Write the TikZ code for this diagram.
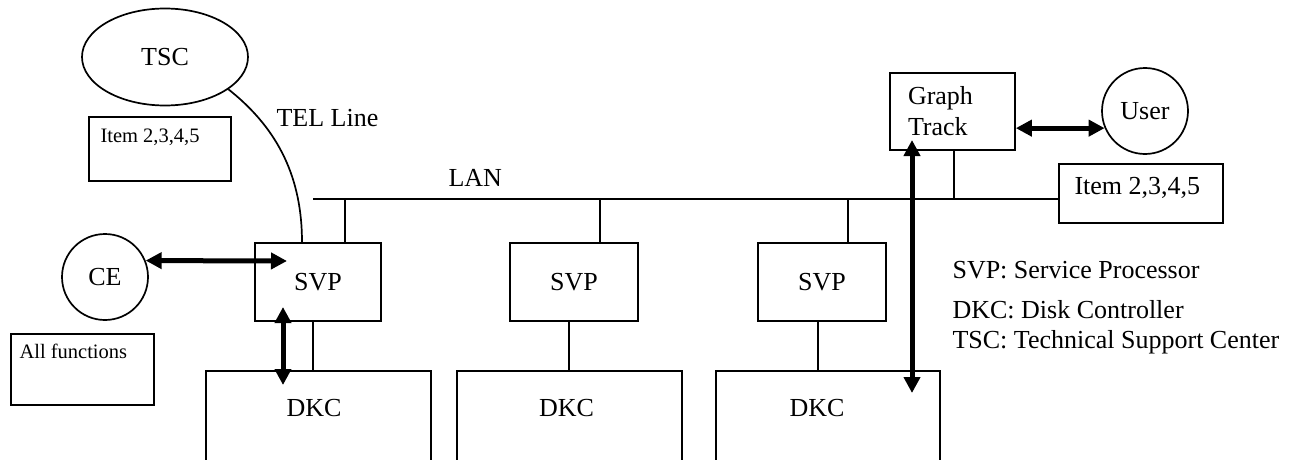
\documentclass[tikz,border=0pt]{standalone}
\usepackage{fontspec}
\setmainfont{Liberation Serif}
\usetikzlibrary{shapes.geometric,arrows.meta,calc}
\begin{document}
\begin{tikzpicture}[x=1pt,y=-1pt,
  wire/.style={line width=1.7pt},
  bx/.style={draw, line width=1.7pt, rectangle, inner sep=0pt},
  big/.style={font=\fontsize{26}{31}\selectfont},
  sml/.style={font=\fontsize{20.5}{24}\selectfont},
  dbl/.style={line width=5pt, {Triangle[length=16pt,width=16pt]}-{Triangle[length=16pt,width=16pt]}}
]
\useasboundingbox (0,0) rectangle (1304,460);
\clip (0,0) rectangle (1304,460);

% nodes
\node[ellipse, draw, wire, minimum width=166pt, minimum height=97pt, inner sep=0pt, big] (tsc) at (165,57) {TSC};
\node[bx, minimum width=142pt, minimum height=64pt] (itemL) at (160,149) {};
\node[sml, anchor=base west] (itemLt) at (97,142) {Item 2,3,4,5};
\node[big, anchor=base west] (tel) at (273,126) {TEL Line};
\node[big, anchor=base west] (lan) at (445,186) {LAN};
\node[circle, draw, wire, minimum size=86pt, inner sep=0pt, big] (ce) at (105,277) {CE};
\node[bx, minimum width=143pt, minimum height=71pt] (allf) at (82.5,369.5) {};
\node[sml, anchor=base west] (allft) at (16,358) {All functions};

\node[bx, big, minimum width=126pt, minimum height=78pt] (svp1) at (318,282) {SVP};
\node[bx, big, minimum width=128pt, minimum height=78pt] (svp2) at (574,282) {SVP};
\node[bx, big, minimum width=128pt, minimum height=78pt] (svp3) at (822,282) {SVP};

\node[bx, minimum width=225pt, minimum height=110pt, anchor=north] (dkc1) at (318.5,370) {};
\node[bx, minimum width=225pt, minimum height=110pt, anchor=north] (dkc2) at (569.5,370) {};
\node[bx, minimum width=224pt, minimum height=110pt, anchor=north] (dkc3) at (828,370) {};
\node[big, anchor=base] (dkc1t) at (314,416) {DKC};
\node[big, anchor=base] (dkc2t) at (566.5,416) {DKC};
\node[big, anchor=base] (dkc3t) at (817,416) {DKC};

\node[bx, big, minimum width=125pt, minimum height=77pt, align=left, text width=89pt] (gt) at (952.5,111.5) {Graph\\Track};
\node[circle, draw, wire, minimum size=86pt, inner sep=0pt, big] (user) at (1145,111) {User};
\node[bx, minimum width=164pt, minimum height=59pt] (itemR) at (1141,193.5) {};
\node[big, anchor=base west] (itemRt) at (1071,194) {Item 2,3,4,5};

\node[big, anchor=base west] (lg1) at (949,278) {SVP: Service Processor};
\node[big, anchor=base west] (lg2) at (949,318) {DKC: Disk Controller};
\node[big, anchor=base west] (lg3) at (949,348) {TSC: Technical Support Center};

% connectors
\coordinate (lanL) at (313,199);
\draw[wire] (lanL) -- (lanL -| itemR.west);
\draw[wire] (tsc.-27) .. controls (280,130) and (302,180) .. ([xshift=-16pt]svp1.north);
\coordinate (d1) at (345,199);
\coordinate (d2) at (600,199);
\coordinate (d3) at (848,199);
\coordinate (d4) at (954,199);
\draw[wire] (d1) -- (d1 |- svp1.north);
\draw[wire] (d2) -- (d2 |- svp2.north);
\draw[wire] (d3) -- (d3 |- svp3.north);
\draw[wire] (d4) -- (d4 |- gt.south);
\draw[wire] ([xshift=-5pt]svp1.south) -- ([xshift=-5pt]svp1.south |- dkc1.north);
\draw[wire] ([xshift=-5pt]svp2.south) -- ([xshift=-5pt]svp2.south |- dkc2.north);
\draw[wire] ([xshift=-4pt]svp3.south) -- ([xshift=-4pt]svp3.south |- dkc3.north);

\coordinate (a1) at (287,261);
\coordinate (a2) at (283,307);
\coordinate (a3) at (283,385);
\coordinate (a4) at (912,140);
\coordinate (a5) at (912,393);
\draw[dbl] (ce.22) -- (a1);
\draw[dbl] (a2) -- (a3);
\draw[dbl] (gt.east |- user.203) -- (user.203);
\draw[dbl] (a4) -- (a5);
\end{tikzpicture}
\end{document}
